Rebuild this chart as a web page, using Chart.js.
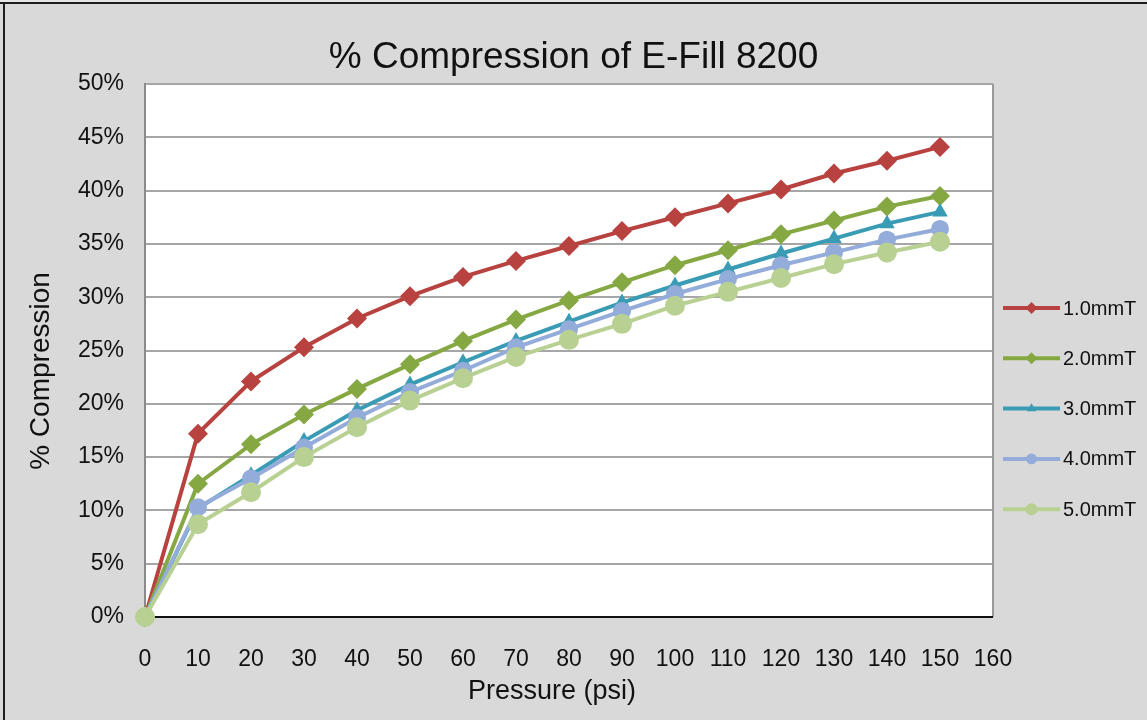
<!DOCTYPE html>
<html>
<head>
<meta charset="utf-8">
<script src="https://cdn.jsdelivr.net/npm/chart.js@4"></script>
<style>
    html, body { margin: 0; padding: 0; background: #d9d9d9; }
    #wrap { position: relative; width: 1147px; height: 720px; overflow: hidden; }
    #topline { position: absolute; left: 0; top: 2px; width: 1147px; height: 2px; background: #1c1c1c; }
    #leftline { position: absolute; left: 3px; top: 2px; width: 2px; height: 718px; background: #1c1c1c; }
    #above { position: absolute; left: 0; top: 0; width: 1147px; height: 2px; background: #e6e6e6; }
</style>
</head>
<body>
<div id="wrap">
    <canvas id="compression_chart" width="1147" height="720"></canvas>
    <div id="above"></div>
    <div id="topline"></div>
    <div id="leftline"></div>
</div>
<script>
// pressure in psi
var pressure = [0, 10, 20, 30, 40, 50, 60, 70, 80, 90, 100, 110, 120, 130, 140, 150];

// % compression
var compression1mm = [0, 17.2, 22.1, 25.3, 28.0, 30.1, 31.9, 33.4, 34.8, 36.2, 37.5, 38.8, 40.1, 41.6, 42.8, 44.1];
var compression2mm = [0, 12.5, 16.2, 19.0, 21.4, 23.7, 25.9, 27.9, 29.7, 31.4, 33.0, 34.4, 35.9, 37.2, 38.5, 39.5];
var compression3mm = [0, 10.2, 13.3, 16.5, 19.4, 21.8, 23.9, 25.9, 27.7, 29.5, 31.1, 32.6, 34.1, 35.5, 36.9, 38.0];
var compression4mm = [0, 10.3, 13.0, 15.9, 18.7, 21.1, 23.1, 25.3, 27.0, 28.7, 30.3, 31.7, 33.0, 34.2, 35.4, 36.4];
var compression5mm = [0, 8.7, 11.7, 15.0, 17.8, 20.3, 22.4, 24.4, 26.0, 27.5, 29.2, 30.5, 31.8, 33.1, 34.2, 35.2];

var seriesLabels = ["1.0mmT", "2.0mmT", "3.0mmT", "4.0mmT", "5.0mmT"];
var yTickValues = [0, 5, 10, 15, 20, 25, 30, 35, 40, 45, 50];

var fontName = "'Liberation Sans', Arial, sans-serif";

function toPoints(values) {
    var pts = [];
    for (var i = 0; i < pressure.length; i++) {
        pts.push({x: pressure[i], y: values[i]});
    }
    return pts;
}

function makeDataset(label, values, color, style, radius, order) {
    return {
        label: label,
        data: toPoints(values),
        borderColor: color,
        backgroundColor: color,
        borderWidth: 4,
        pointStyle: style,
        pointRadius: radius,
        pointHoverRadius: radius,
        pointBorderWidth: 0,
        tension: 0,
        clip: false,
        order: order
    };
}

// white plot area and grey frame like the spreadsheet
var plotBackground = {
    id: 'plotBackground',
    beforeDraw: function (chart) {
        var a = chart.chartArea, ctx = chart.ctx;
        ctx.save();
        ctx.fillStyle = '#ffffff';
        ctx.fillRect(a.left, a.top, a.right - a.left, a.bottom - a.top);
        ctx.restore();
    },
    beforeDatasetsDraw: function (chart) {
        var a = chart.chartArea, ctx = chart.ctx;
        ctx.save();
        ctx.strokeStyle = '#9a9a9a';
        ctx.lineWidth = 2;
        ctx.beginPath();
        ctx.moveTo(a.right, a.top);
        ctx.lineTo(a.right, a.bottom);
        ctx.stroke();
        ctx.strokeStyle = '#111111';
        ctx.beginPath();
        ctx.moveTo(a.left, a.bottom);
        ctx.lineTo(a.right, a.bottom);
        ctx.stroke();
        ctx.restore();
    }
};

// axis titles, placed where the spreadsheet put them
var axisTitles = {
    id: 'axisTitles',
    afterDraw: function (chart) {
        var ctx = chart.ctx;
        ctx.save();
        ctx.fillStyle = '#111111';
        ctx.font = '27px ' + fontName;
        ctx.textAlign = 'center';
        ctx.textBaseline = 'middle';
        ctx.fillText('Pressure (psi)', 552, 692);
        ctx.translate(41, 371);
        ctx.rotate(-Math.PI / 2);
        ctx.font = '28px ' + fontName;
        ctx.fillText('% Compression', 0, 0);
        ctx.restore();
    }
};

// legend with line + marker, drawn to the right of the plot
var lineLegend = {
    id: 'lineLegend',
    afterDraw: function (chart) {
        var ctx = chart.ctx;
        var a = chart.chartArea;
        var x0 = a.right + 10, x1 = a.right + 67;
        var yStart = 308, gap = 50.3;
        chart.data.datasets.forEach(function (ds, i) {
            var y = yStart + i * gap;
            ctx.save();
            ctx.strokeStyle = ds.borderColor;
            ctx.lineWidth = 4;
            ctx.beginPath();
            ctx.moveTo(x0, y);
            ctx.lineTo(x1, y);
            ctx.stroke();
            ctx.fillStyle = ds.backgroundColor;
            ctx.strokeStyle = ds.borderColor;
            Chart.helpers.drawPoint(ctx, {pointStyle: ds.pointStyle, radius: ds.pointRadius * 0.6, borderWidth: 0, rotation: 0}, (x0 + x1) / 2, y);
            ctx.fillStyle = '#111111';
            ctx.font = '20px ' + fontName;
            ctx.textBaseline = 'middle';
            ctx.textAlign = 'left';
            ctx.fillText(ds.label, x1 + 3, y + 1);
            ctx.restore();
        });
    }
};

function createChart() {
    var ctx = document.getElementById("compression_chart").getContext('2d');
    var chart = new Chart(ctx, {
        type: 'line',
        data: {
            datasets: [
                makeDataset(seriesLabels[0], compression1mm, '#b7423f', 'rectRot', 10, 5),
                makeDataset(seriesLabels[1], compression2mm, '#86a843', 'rectRot', 10, 4),
                makeDataset(seriesLabels[2], compression3mm, '#3a9bb5', 'triangle', 9, 3),
                makeDataset(seriesLabels[3], compression4mm, '#93acda', 'circle', 9, 2),
                makeDataset(seriesLabels[4], compression5mm, '#b8d193', 'circle', 10, 1)
            ]
        },
        options: {
            responsive: false,
            animation: false,
            events: [],
            layout: {padding: 0},
            plugins: {
                legend: {display: false},
                tooltip: {enabled: false},
                title: {
                    display: true,
                    text: '% Compression of E-Fill 8200',
                    color: '#111111',
                    font: {family: fontName, size: 37, weight: 'normal', lineHeight: 1.2},
                    padding: {top: 36, bottom: 3.6}
                }
            },
            scales: {
                x: {
                    type: 'linear',
                    min: 0,
                    max: 160,
                    grid: {display: false, drawTicks: false},
                    border: {display: false},
                    ticks: {
                        stepSize: 10,
                        padding: 29,
                        color: '#111111',
                        maxRotation: 0,
                        autoSkip: false,
                        font: {family: fontName, size: 23}
                    },
                    afterFit: function (scale) { scale.height = 103; }
                },
                y: {
                    min: 0,
                    max: 50,
                    afterBuildTicks: function (scale) {
                        scale.ticks = yTickValues.map(function (v) { return {value: v}; });
                    },
                    grid: {color: '#a6a6a6', lineWidth: 2, drawTicks: false},
                    border: {display: true, color: '#8a8a8a', width: 2},
                    ticks: {
                        padding: 21,
                        color: '#111111',
                        font: {family: fontName, size: 23},
                        callback: function (v) { return v + '%'; }
                    },
                    afterFit: function (scale) { scale.width = 145; }
                },
                // empty right-hand strip that holds the legend
                legendSpace: {
                    type: 'linear',
                    position: 'right',
                    display: true,
                    grid: {display: false, drawTicks: false},
                    border: {display: false},
                    ticks: {display: false},
                    afterFit: function (scale) { scale.width = 154; }
                }
            }
        },
        plugins: [plotBackground, axisTitles, lineLegend]
    });
    return chart;
}

createChart();
</script>
</body>
</html>
